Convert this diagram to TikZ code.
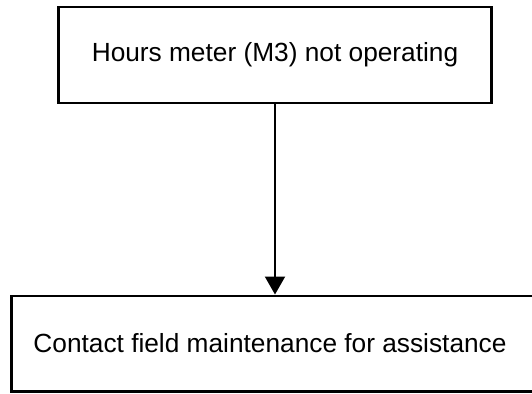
\documentclass[tikz,border=0pt]{standalone}
\usepackage{fontspec}
\setmainfont{Liberation Sans}
\usetikzlibrary{arrows.meta}
\begin{document}
\begin{tikzpicture}[x=0.75pt,y=-0.75pt,
  boxstyle/.style={draw=black, line width=2pt, inner sep=0pt},
  textstyle/.style={inner sep=0pt, font=\fontsize{19.7}{23}\selectfont},
  arrowstyle/.style={draw=black, line width=1.6pt, -{Triangle[length=13.5pt,width=15pt]}}]
\useasboundingbox (0,0) rectangle (532,393);
\node[boxstyle, textstyle, minimum width=324.75pt, minimum height=72pt] (top) at (275,55) {Hours meter (M3) not operating};
\node[boxstyle, minimum width=396.2pt, minimum height=71.5pt] (bot) at (275.85,343.5) {};
\node[textstyle] (botlabel) at (270,343.5) {Contact field maintenance for assistance};
\draw[arrowstyle] (top.south) -- (top.south |- bot.north);
\end{tikzpicture}
\end{document}
